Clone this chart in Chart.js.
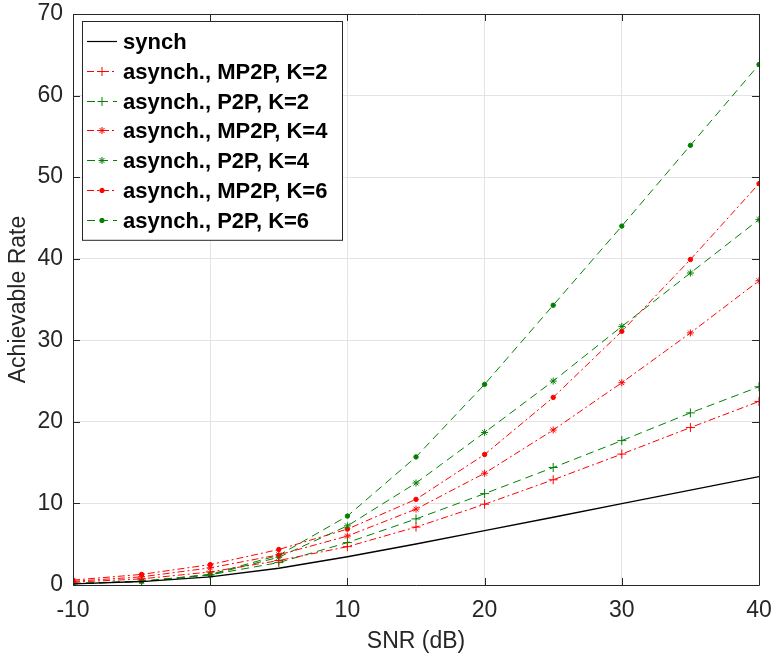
<!DOCTYPE html>
<html>
<head>
<meta charset="utf-8">
<script src="https://cdn.jsdelivr.net/npm/chart.js@4.4.1/dist/chart.umd.min.js"></script>
<style>
  html, body { margin: 0; padding: 0; background: #fff; }
  #wrap { width: 774px; height: 661px; }
</style>
</head>
<body>
<div id="wrap"><canvas id="rateChart" width="774" height="661"></canvas></div>
<script>
const snr = [-10, -5, 0, 5, 10, 15, 20, 25, 30, 35, 40];
const yTicks = [0, 10, 20, 30, 40, 50, 60, 70];

const synch  = [0.14, 0.42, 1.0, 2.06, 3.46, 5.03, 6.66, 8.31, 9.97, 11.63, 13.29];
const mp2pK2 = [0.35, 0.75, 1.6, 3.0, 4.7, 7.1, 9.9, 12.9, 16.05, 19.3, 22.5];
const p2pK2  = [0.15, 0.45, 1.25, 2.75, 5.2, 8.1, 11.2, 14.4, 17.7, 21.1, 24.3];
const mp2pK4 = [0.45, 1.0, 2.1, 3.7, 6.0, 9.3, 13.7, 19.0, 24.8, 30.9, 37.3];
const p2pK4  = [0.15, 0.45, 1.25, 3.4, 7.25, 12.5, 18.7, 25.0, 31.7, 38.25, 44.8];
const mp2pK6 = [0.6, 1.3, 2.5, 4.35, 6.85, 10.5, 16.0, 23.0, 31.1, 39.9, 49.2];
const p2pK6  = [0.2, 0.45, 1.3, 3.65, 8.45, 15.7, 24.6, 34.3, 44.0, 53.9, 63.8];

const RED = '#ff0000';
const GREEN = '#008000';
const AXIS = '#262626';
const DASH_RED = [7, 3, 2, 3];
const DASH_GREEN = [8, 5];

const pts = arr => arr.map((v, i) => ({ x: snr[i], y: v }));

function series(label, data, color, dash, style, radius) {
  return {
    label, data: pts(data),
    borderColor: color, backgroundColor: color,
    borderWidth: 1, borderDash: dash,
    pointStyle: style, pointRadius: radius, pointBorderWidth: 1,
    pointBorderColor: color, pointBackgroundColor: color,
    tension: 0
  };
}

const datasets = [
  { label: 'synch', data: pts(synch), borderColor: '#000', borderWidth: 1.4, pointRadius: 0, tension: 0 },
  series('asynch., MP2P, K=2', mp2pK2, RED, DASH_RED, 'cross', 4.5),
  series('asynch., P2P, K=2', p2pK2, GREEN, DASH_GREEN, 'cross', 4.5),
  series('asynch., MP2P, K=4', mp2pK4, RED, DASH_RED, 'star', 3.5),
  series('asynch., P2P, K=4', p2pK4, GREEN, DASH_GREEN, 'star', 3.5),
  series('asynch., MP2P, K=6', mp2pK6, RED, DASH_RED, 'circle', 2.2),
  series('asynch., P2P, K=6', p2pK6, GREEN, DASH_GREEN, 'circle', 2.2)
];

// box round the axes with inward ticks (MATLAB look)
const boxPlugin = {
  id: 'box',
  afterDatasetsDraw(chart) {
    const { ctx, chartArea: a, scales: { x, y } } = chart;
    ctx.save();
    ctx.strokeStyle = AXIS;
    ctx.lineWidth = 1;
    ctx.beginPath();
    ctx.rect(Math.round(a.left) + 0.5, Math.round(a.top) + 0.5,
             Math.round(a.right - a.left), Math.round(a.bottom - a.top));
    const tl = 7;
    snr.filter(v => v % 10 === 0).forEach(v => {
      const px = Math.round(x.getPixelForValue(v)) + 0.5;
      ctx.moveTo(px, a.bottom); ctx.lineTo(px, a.bottom - tl);
      ctx.moveTo(px, a.top); ctx.lineTo(px, a.top + tl);
    });
    yTicks.forEach(v => {
      const py = Math.round(y.getPixelForValue(v)) + 0.5;
      ctx.moveTo(a.left, py); ctx.lineTo(a.left + tl, py);
      ctx.moveTo(a.right, py); ctx.lineTo(a.right - tl, py);
    });
    ctx.stroke();
    ctx.restore();
  }
};

// legend drawn like the MATLAB one: line sample + marker + bold text
const legendPlugin = {
  id: 'matLegend',
  afterDraw(chart) {
    const { ctx } = chart;
    const left = 82, top = 21, w = 260, rowH = 29.8, firstY = 41;
    const n = chart.data.datasets.length;
    const h = (firstY - top) * 2 + rowH * (n - 1);
    ctx.save();
    ctx.fillStyle = '#fff';
    ctx.fillRect(left, top, w, h);
    ctx.strokeStyle = AXIS;
    ctx.lineWidth = 1;
    ctx.strokeRect(left + 0.5, top + 0.5, w, h);
    ctx.font = 'bold 22px "Liberation Sans", Arial, sans-serif';
    ctx.textBaseline = 'middle';
    chart.data.datasets.forEach((ds, i) => {
      const cy = Math.round(firstY + i * rowH) + 0.5;
      ctx.save();
      ctx.strokeStyle = ds.borderColor;
      ctx.lineWidth = ds.borderWidth > 1 ? 1.2 : 1;
      ctx.setLineDash(ds.borderDash || []);
      ctx.beginPath();
      ctx.moveTo(87, cy); ctx.lineTo(117, cy);
      ctx.stroke();
      ctx.restore();
      if (ds.pointRadius > 0) {
        ctx.save();
        ctx.strokeStyle = ds.pointBorderColor;
        ctx.fillStyle = ds.pointBackgroundColor;
        ctx.lineWidth = 1;
        Chart.helpers.drawPoint(ctx, { pointStyle: ds.pointStyle, radius: ds.pointRadius, borderWidth: 1 }, 102, cy);
        ctx.restore();
      }
      ctx.fillStyle = '#000';
      ctx.fillText(ds.label, 123, cy + 1);
    });
    ctx.restore();
  }
};

const tickFont = { family: '"Liberation Sans", Arial, sans-serif', size: 23 };

new Chart(document.getElementById('rateChart'), {
  type: 'line',
  data: { datasets },
  options: {
    responsive: false,
    animation: false,
    devicePixelRatio: 1,
    layout: { padding: { top: 14, right: 15, left: 0, bottom: 0 } },
    plugins: { legend: { display: false }, tooltip: { enabled: false } },
    scales: {
      x: {
        type: 'linear', min: -10, max: 40,
        afterFit: s => { s.height = 76; s.paddingLeft = 0; s.paddingRight = 0; },
        ticks: { stepSize: 10, color: AXIS, font: tickFont, padding: 12, maxRotation: 0 },
        grid: { color: '#e3e3e3', drawTicks: false },
        border: { display: false },
        title: { display: true, text: 'SNR (dB)', color: AXIS, font: tickFont, padding: { top: 0, bottom: 6 } }
      },
      y: {
        min: 0, max: 70,
        afterFit: s => { s.width = 73; s.paddingTop = 0; s.paddingBottom = 0; },
        afterBuildTicks: s => { s.ticks = yTicks.map(v => ({ value: v })); },
        ticks: { color: AXIS, font: tickFont, padding: 10 },
        grid: { color: '#e3e3e3', drawTicks: false },
        border: { display: false },
        title: { display: true, text: 'Achievable Rate', color: AXIS, font: tickFont, padding: { top: 5, bottom: 0 } }
      }
    }
  },
  plugins: [boxPlugin, legendPlugin]
});
</script>
</body>
</html>
